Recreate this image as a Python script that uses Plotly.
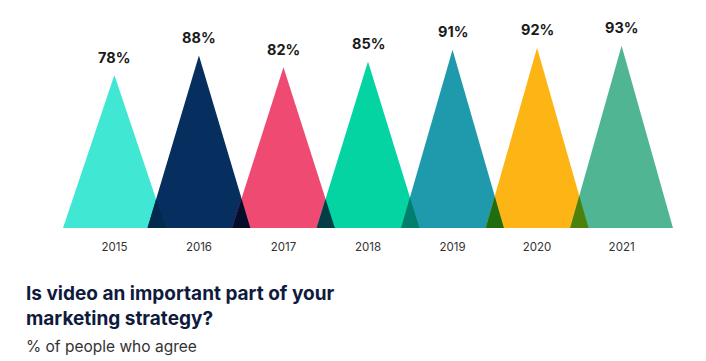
import plotly.graph_objects as go

years = ["2015", "2016", "2017", "2018", "2019", "2020", "2021"]
values = [78, 88, 82, 85, 91, 92, 93]
labels = ["78%", "88%", "82%", "85%", "91%", "92%", "93%"]
colors = ["#40E8D4", "#062E5E", "#EF4A72", "#04D3A2", "#1F9AAC", "#FDB515", "#4FB592"]

HALF = 0.608  # half base width of each triangle in category units


def hex2rgb(h):
    h = h.lstrip("#")
    return tuple(int(h[i:i + 2], 16) for i in (0, 2, 4))


def multiply(c1, c2):
    a, b = hex2rgb(c1), hex2rgb(c2)
    return "rgb(%d,%d,%d)" % tuple(round(x * y / 255) for x, y in zip(a, b))


fig = go.Figure()
xs = list(range(len(years)))

for i, (v, c) in enumerate(zip(values, colors)):
    fig.add_trace(go.Scatter(
        x=[i - HALF, i, i + HALF, i - HALF],
        y=[0, v, 0, 0],
        fill="toself", fillcolor=c, mode="lines",
        line=dict(width=0, color=c), hoverinfo="skip", showlegend=False))

# overlap regions (multiply blend)
for i in range(len(values) - 1):
    v1, v2 = values[i], values[i + 1]
    xl = (i + 1) - HALF
    xr = i + HALF
    xt = (v1 * xr + v2 * xl) / (v1 + v2)
    yt = v1 * (xr - xt) / HALF
    col = multiply(colors[i], colors[i + 1])
    fig.add_trace(go.Scatter(
        x=[xl, xt, xr, xl], y=[0, yt, 0, 0],
        fill="toself", fillcolor=col, mode="lines",
        line=dict(width=0, color=col), hoverinfo="skip", showlegend=False))

for i, (v, t) in enumerate(zip(values, labels)):
    fig.add_annotation(x=i, y=v, text="<b>%s</b>" % t, showarrow=False,
                       yshift=18, font=dict(family="Inter", size=14.5, color="#1a1a1a"))

PW, PH = 610, 196
L, T = 63, 32


def px(xp):
    return (xp - L) / PW


def py(yp):
    return (T + PH - yp) / PH


fig.add_annotation(xref="paper", yref="paper", x=px(24), y=py(293),
                   xanchor="left", yanchor="middle", align="left", showarrow=False,
                   text="<b>Is video an important part of your</b>",
                   font=dict(family="Inter", size=19, color="#0f1b3d"))
fig.add_annotation(xref="paper", yref="paper", x=px(24), y=py(318),
                   xanchor="left", yanchor="middle", align="left", showarrow=False,
                   text="<b>marketing strategy?</b>",
                   font=dict(family="Inter", size=19, color="#0f1b3d"))
fig.add_annotation(xref="paper", yref="paper", x=px(24), y=py(346),
                   xanchor="left", yanchor="middle", align="left", showarrow=False,
                   text="% of people who agree",
                   font=dict(family="Inter", size=15.5, color="#333333"))

fig.update_layout(
    width=706, height=361,
    margin=dict(l=L, r=706 - L - PW, t=T, b=361 - T - PH),
    paper_bgcolor="white", plot_bgcolor="white",
    xaxis=dict(range=[-HALF, len(years) - 1 + HALF], tickvals=xs, ticktext=years,
               showgrid=False, zeroline=False, showline=False,
               ticks="outside", ticklen=8, tickcolor="rgba(0,0,0,0)",
               tickfont=dict(family="Inter", size=11.5, color="#333333")),
    yaxis=dict(range=[0, 100], visible=False, showgrid=False, zeroline=False),
)

fig.write_html("out.html", config={"displayModeBar": False},
               post_script="document.body.style.margin='0';")
